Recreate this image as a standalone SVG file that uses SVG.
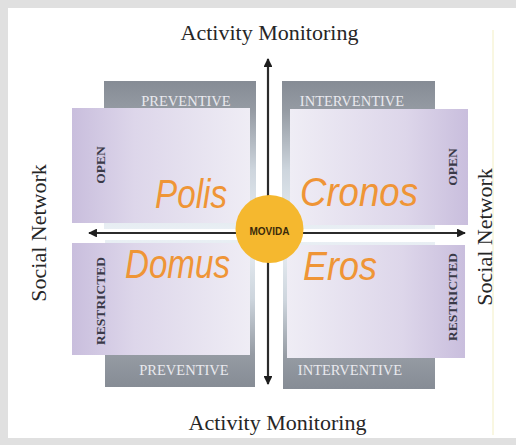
<svg xmlns="http://www.w3.org/2000/svg" width="516" height="445" viewBox="0 0 516 445">
  <defs>
    <style>
      .title { font-family: "Liberation Serif", "Times New Roman", serif; font-size: 22px; fill: #262626; text-anchor: middle; }
      .band { font-family: "Liberation Serif", "Times New Roman", serif; font-size: 14.5px; fill: #e9e9ee; text-anchor: middle; }
      .side { font-family: "Liberation Serif", "Times New Roman", serif; font-size: 13.5px; font-weight: bold; fill: #3a3a48; text-anchor: middle; }
      .hand { font-family: "Liberation Sans", Arial, sans-serif; font-style: italic; font-size: 40px; fill: #ef9536; }
      .hub { font-family: "Liberation Sans", Arial, sans-serif; font-size: 10px; font-weight: bold; fill: #3b2a0a; text-anchor: middle; }
      .axis { stroke: #2b2b2b; stroke-width: 2.2; fill: none; marker-end: url(#tip); }
    </style>
    <marker id="tip" viewBox="0 0 10 10" refX="9" refY="5" markerWidth="4" markerHeight="4" orient="auto" markerUnits="strokeWidth">
      <path d="M0,0 L10,5 L0,10 z" fill="#1e1e1e"/>
    </marker>
    <!-- gray bands: dark label strip fading towards the centre -->
    <linearGradient id="grayTop" x1="0" y1="0" x2="0" y2="1">
      <stop offset="0" stop-color="#868c95"/>
      <stop offset="0.2" stop-color="#959ba3"/>
      <stop offset="0.6" stop-color="#cdd5dd"/>
      <stop offset="1" stop-color="#e9eff4"/>
    </linearGradient>
    <linearGradient id="grayBot" x1="0" y1="1" x2="0" y2="0">
      <stop offset="0" stop-color="#868c95"/>
      <stop offset="0.22" stop-color="#959ba3"/>
      <stop offset="0.6" stop-color="#cdd5dd"/>
      <stop offset="1" stop-color="#e9eff4"/>
    </linearGradient>
    <!-- lilac panels: deeper at the outer edge -->
    <linearGradient id="lilacL" x1="0" y1="0" x2="1" y2="0">
      <stop offset="0" stop-color="#c9bedd"/>
      <stop offset="0.35" stop-color="#ddd6ea"/>
      <stop offset="1" stop-color="#efedf5"/>
    </linearGradient>
    <linearGradient id="lilacR" x1="1" y1="0" x2="0" y2="0">
      <stop offset="0" stop-color="#c9bedd"/>
      <stop offset="0.35" stop-color="#ddd6ea"/>
      <stop offset="1" stop-color="#efedf5"/>
    </linearGradient>
  </defs>

  <!-- frame -->
  <rect x="0" y="0" width="516" height="445" fill="#e0e0e0"/>
  <rect x="8" y="8" width="508" height="430" fill="#ffffff"/>
  <line x1="493" y1="30" x2="493" y2="435" stroke="#f3efc4" stroke-width="1"/>

  <!-- quadrant: Polis -->
  <g id="polis">
    <rect x="104" y="81" width="152" height="148" fill="url(#grayTop)"/>
    <text class="band" x="186" y="106">PREVENTIVE</text>
    <rect x="72" y="108" width="178" height="115" fill="url(#lilacL)"/>
    <text class="side" transform="translate(105,165) rotate(-90)">OPEN</text>
    <text class="hand" x="155" y="208" textLength="72" lengthAdjust="spacingAndGlyphs">Polis</text>
  </g>

  <!-- quadrant: Cronos -->
  <g id="cronos">
    <rect x="282" y="81" width="153" height="148" fill="url(#grayTop)"/>
    <text class="band" x="352" y="106">INTERVENTIVE</text>
    <rect x="290" y="109" width="178" height="116" fill="url(#lilacR)"/>
    <text class="side" transform="translate(457,167) rotate(-90)">OPEN</text>
    <text class="hand" x="300" y="206" textLength="118" lengthAdjust="spacingAndGlyphs">Cronos</text>
  </g>

  <!-- quadrant: Domus -->
  <g id="domus">
    <rect x="105" y="240" width="150" height="147" fill="url(#grayBot)"/>
    <text class="band" x="184" y="375">PREVENTIVE</text>
    <rect x="72" y="243" width="178" height="112" fill="url(#lilacL)"/>
    <text class="side" transform="translate(105,301) rotate(-90)">RESTRICTED</text>
    <text class="hand" x="125" y="278" textLength="105" lengthAdjust="spacingAndGlyphs">Domus</text>
  </g>

  <!-- quadrant: Eros -->
  <g id="eros">
    <rect x="283" y="242" width="152" height="147" fill="url(#grayBot)"/>
    <text class="band" x="350" y="375">INTERVENTIVE</text>
    <rect x="287" y="245" width="178" height="113" fill="url(#lilacR)"/>
    <text class="side" transform="translate(457,297) rotate(-90)">RESTRICTED</text>
    <text class="hand" x="303" y="280" textLength="74" lengthAdjust="spacingAndGlyphs">Eros</text>
  </g>

  <!-- axes -->
  <g id="axes">
    <line class="axis" x1="268" y1="230" x2="268" y2="59"/>
    <line class="axis" x1="268" y1="230" x2="268" y2="384"/>
    <line class="axis" x1="268" y1="233" x2="89" y2="233"/>
    <line class="axis" x1="268" y1="233" x2="465" y2="233"/>
  </g>

  <!-- centre hub -->
  <g id="movida">
    <circle cx="269.5" cy="229" r="34" fill="#f5b82f"/>
    <text class="hub" x="269.5" y="235">MOVIDA</text>
  </g>

  <!-- axis titles -->
  <g id="labels">
    <text class="title" x="269.5" y="40">Activity Monitoring</text>
    <text class="title" x="277.5" y="430">Activity Monitoring</text>
    <text class="title" transform="translate(46,233) rotate(-90)">Social Network</text>
    <text class="title" transform="translate(492,237) rotate(-90)">Social Network</text>
  </g>
</svg>
